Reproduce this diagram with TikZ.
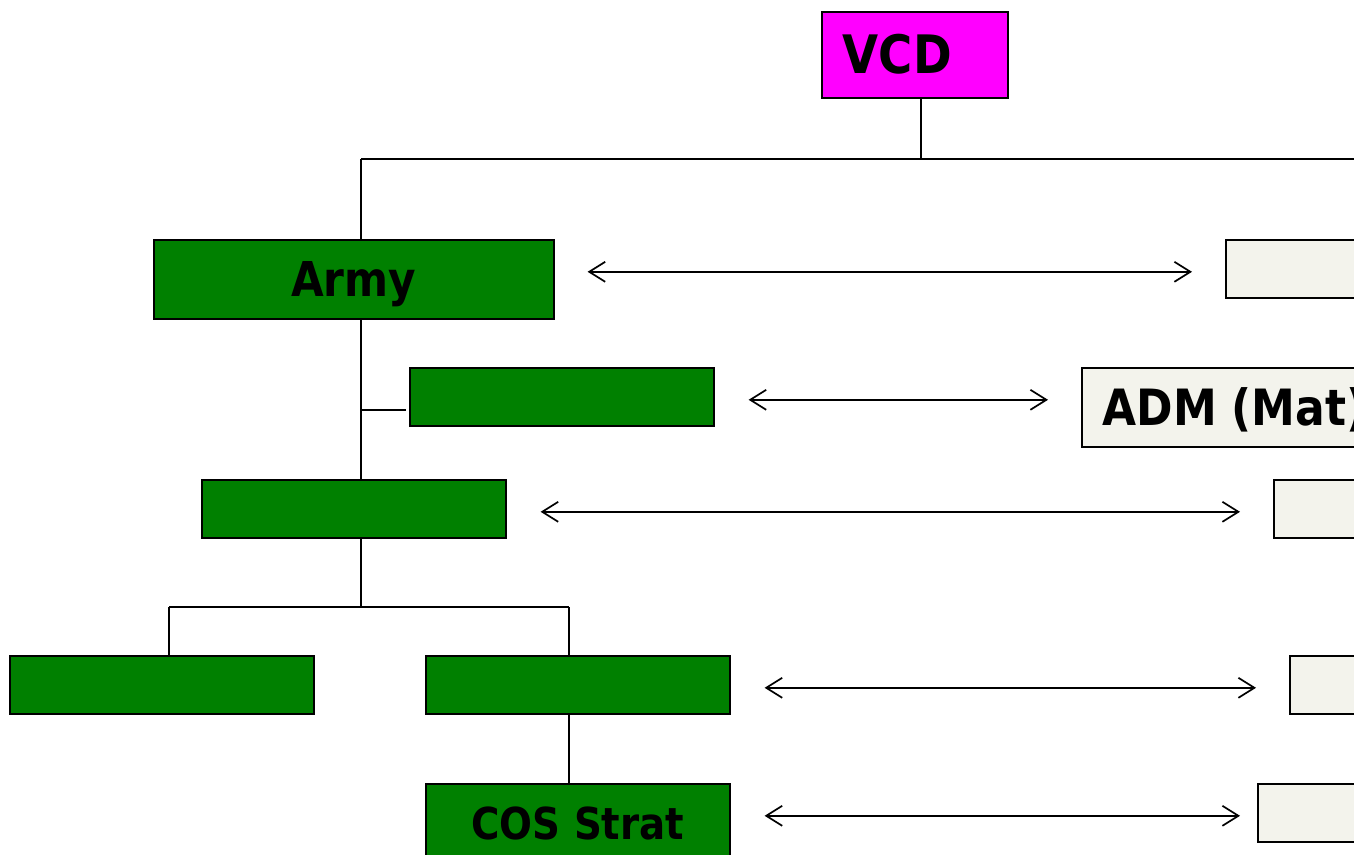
\documentclass[tikz,border=0pt]{standalone}
\usepackage{fontspec}
\usepackage{graphicx}
\setmainfont{DejaVu Sans}
\usetikzlibrary{arrows.meta}
\definecolor{boxgreen}{HTML}{008000}
\definecolor{beige}{HTML}{F3F3EC}
\definecolor{vcdmag}{HTML}{FF00FF}
\newcommand\nt[1]{\scalebox{0.88}[1]{#1}}
\begin{document}
\begin{tikzpicture}[x=1pt,y=-1pt,
  box/.style={draw=black, line width=1.6pt, inner sep=0pt, anchor=north west,
    font=\fontsize{48}{50}\selectfont\bfseries, text height=35pt, text depth=0pt},
  gbox/.style={box, fill=boxgreen},
  bbox/.style={box, fill=beige},
  link/.style={line width=1.7pt},
  dbl/.style={line width=1.7pt, {Straight Barb[length=16pt,width=20pt]}-{Straight Barb[length=16pt,width=20pt]}}]
\clip (0,0) rectangle (1354,854);
\fill[white] (0,0) rectangle (1354,854);
% nodes
\node[box, fill=vcdmag, minimum height=86pt, text width=144pt, inner xsep=21pt, align=left,
  font=\fontsize{53}{55}\selectfont\bfseries, text height=38pt] (vcd) at (821,11) {\nt{VCD}};
\node[gbox, minimum width=400pt, minimum height=79pt] (army) at (153,239) {\nt{Army}};
\node[gbox, minimum width=304pt, minimum height=58pt] (b2) at (409,367) {};
\node[gbox, minimum width=304pt, minimum height=58pt] (b3) at (201,479) {};
\node[gbox, minimum width=304pt, minimum height=58pt] (b4) at (9,655) {};
\node[gbox, minimum width=304pt, minimum height=58pt] (b5) at (425,655) {};
\node[gbox, minimum width=304pt, minimum height=79pt, font=\fontsize{44}{46}\selectfont\bfseries, text height=33pt] (cos) at (425,783) {\nt{COS Strat}};
\node[bbox, minimum width=200pt, minimum height=58pt] (r1) at (1225,239) {};
\node[bbox, minimum height=79pt, text width=300pt, inner xsep=21pt, align=left, font=\fontsize{50}{52}\selectfont\bfseries, text height=36pt] (adm) at (1081,367) {\nt{ADM (Mat)}};
\node[bbox, minimum width=200pt, minimum height=58pt] (r3) at (1273,479) {};
\node[bbox, minimum width=200pt, minimum height=58pt] (r4) at (1289,655) {};
\node[bbox, minimum width=200pt, minimum height=58pt] (r5) at (1257,783) {};
% tree connectors
\coordinate (jtop) at (361,159);
\coordinate (jend) at (1360,159);
\coordinate (jv) at (921,159);
\coordinate (jb2) at (361,410);
\coordinate (jmid) at (361,607);
\coordinate (jl) at (169,607);
\coordinate (jr) at (569,607);
\draw[link] (jv |- vcd.south) -- (jv);
\draw[link] (jtop) -- (jend);
\draw[link] (jtop) -- (jtop |- army.north);
\draw[link] (jtop |- army.south) -- (jtop |- b3.north);
\draw[link] (jb2) -- ([xshift=-3pt]jb2 -| b2.west);
\draw[link] (jtop |- b3.south) -- (jmid);
\draw[link] (jl) -- (jr);
\draw[link] (jl) -- (jl |- b4.north);
\draw[link] (jr) -- (jr |- b5.north);
\draw[link] (jr |- b5.south) -- (jr |- cos.north);
% double arrows
\draw[dbl] ([xshift=33pt,yshift=7.5pt]army.east) -- ([xshift=-33pt,yshift=-3pt]r1.west);
\draw[dbl] ([xshift=34pt,yshift=-3pt]b2.east) -- ([xshift=-33pt,yshift=7.5pt]adm.west);
\draw[dbl] ([xshift=34pt,yshift=-3pt]b3.east) -- ([xshift=-33pt,yshift=-3pt]r3.west);
\draw[dbl] ([xshift=34pt,yshift=-3pt]b5.east) -- ([xshift=-33pt,yshift=-3pt]r4.west);
\draw[dbl] ([xshift=34pt,yshift=7.5pt]cos.east) -- ([xshift=-17pt,yshift=-3pt]r5.west);
\end{tikzpicture}
\end{document}
